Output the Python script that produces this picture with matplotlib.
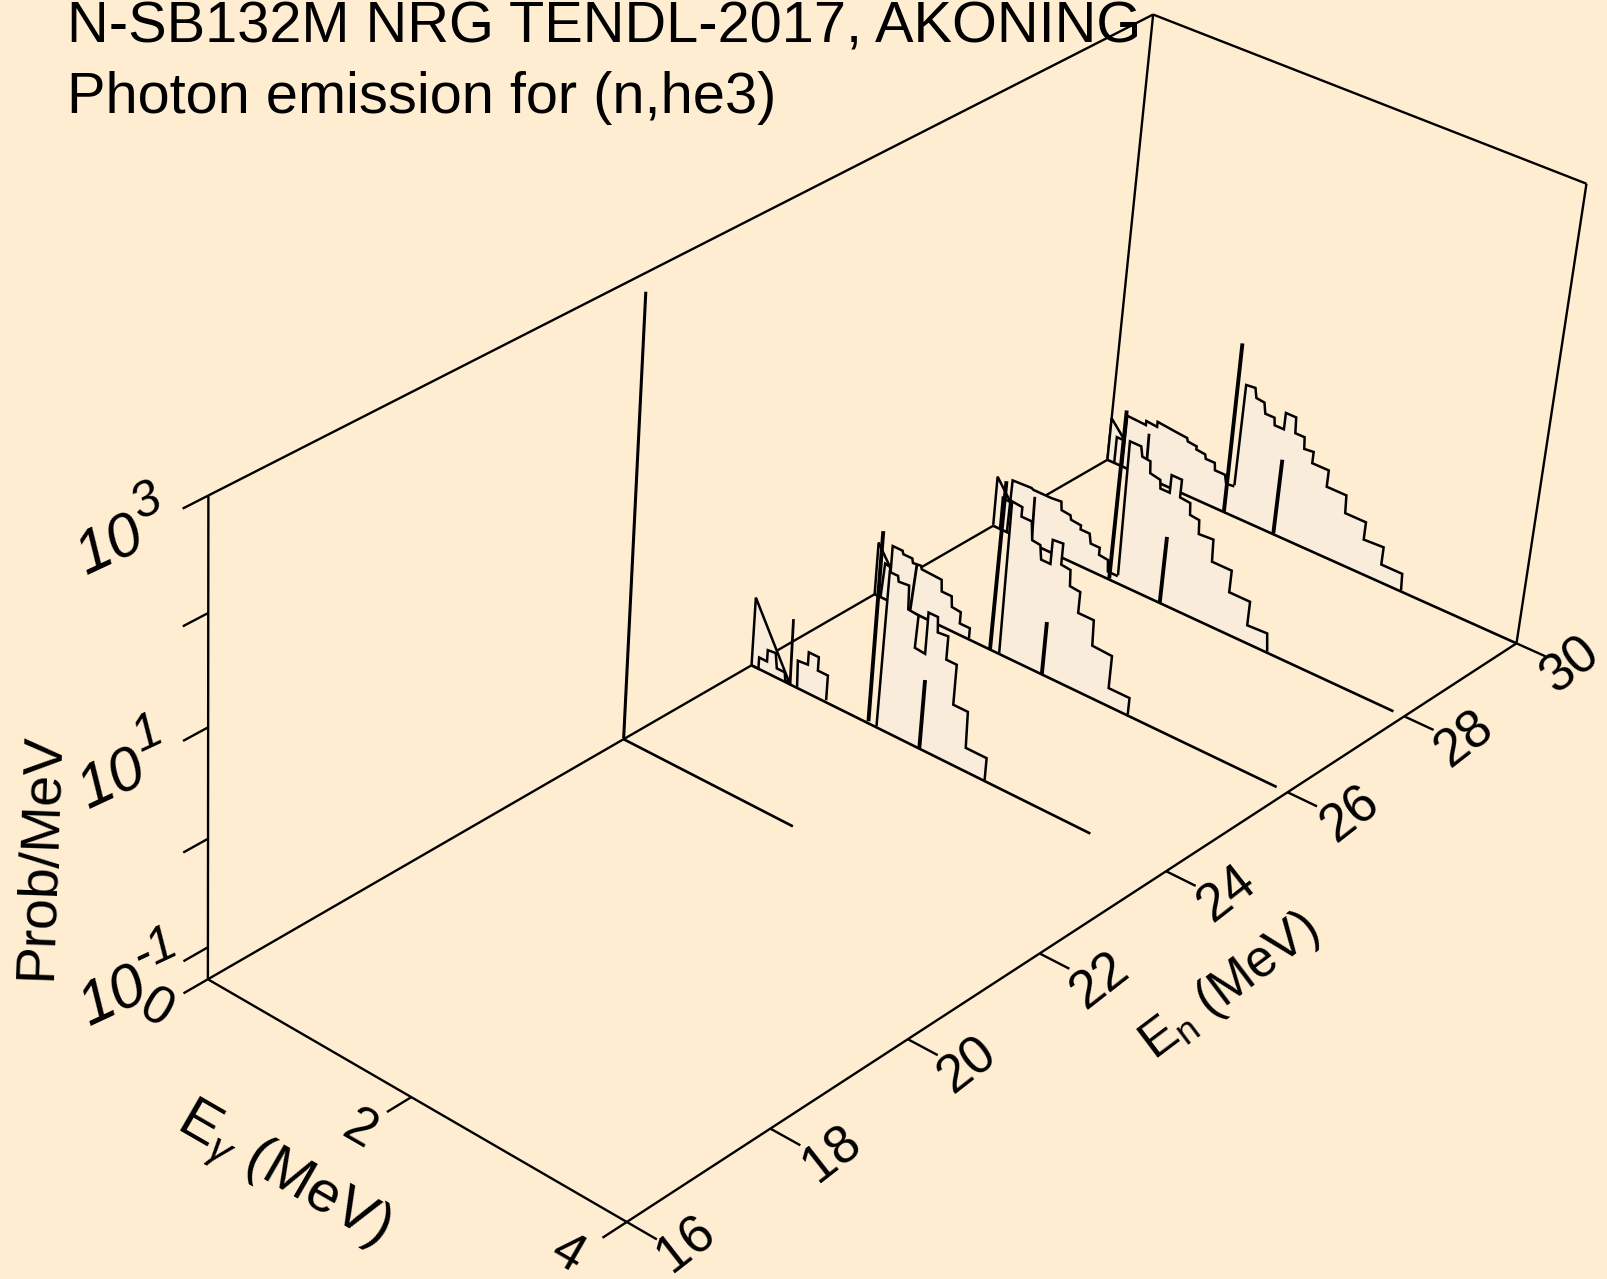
import numpy as np
import matplotlib
matplotlib.use('Agg')
import matplotlib.pyplot as plt
from matplotlib.patches import Polygon

# ---- data: photon energy (MeV) and log10(Prob/MeV), one group per incident energy ----
incident_energies = [30, 28, 26, 24]
eg_ticks = [0, 2, 4]
en_ticks = [16, 18, 20, 22, 24, 26, 28, 30]
logz_ticks = [-1, 0, 1, 2, 3]

eg30_end = 4.00
eg30_tri = [0.00, 0.00, 0.40]
lp30_tri = [-1.30, -0.88, -1.30]
eg30_st = [0.07, 0.07, 0.15, 0.17, 0.23, 0.25]
lp30_st = [-1.30, -1.04, -1.04, -1.16, -1.16, -1.29]
eg30_s0 = [0.39, 0.38]
lp30_s0 = [-1.30, -0.87]
eg30_a = [0.15, 0.15, 0.34, 0.34, 0.45, 0.45, 0.64, 0.75, 0.76, 0.85, 0.85, 0.94, 0.95, 1.04, 1.05, 1.15, 1.17, 1.26]
lp30_a = [-1.30, -0.79, -0.80, -0.76, -0.77, -0.72, -0.74, -0.75, -0.78, -0.79, -0.82, -0.83, -0.87, -0.87, -0.94, -0.94, -1.02, -1.01]
eg30_b = [1.25, 1.25, 1.34, 1.36, 1.44, 1.46, 1.55, 1.56, 1.65, 1.65, 1.75, 1.76, 1.85, 1.86, 1.95, 1.95, 2.11, 2.11, 2.30, 2.31, 2.51, 2.51, 2.70, 2.70, 2.90, 2.91]
lp30_b = [-1.00, -0.01, -0.00, -0.09, -0.10, -0.20, -0.20, -0.27, -0.27, -0.11, -0.11, -0.26, -0.26, -0.37, -0.36, -0.47, -0.47, -0.63, -0.63, -0.80, -0.80, -0.97, -0.96, -1.13, -1.13, -1.29]
eg30_s1 = [1.18, 1.17]
lp30_s1 = [-1.30, 0.36]
eg30_s2 = [1.67, 1.67]
lp30_s2 = [-1.29, -0.56]

eg28_end = 3.90
eg28_tri = [0.00, 0.00, 0.39]
lp28_tri = [-1.29, -0.81, -1.30]
eg28_st = [0.07, 0.07, 0.16, 0.18, 0.25, 0.28]
lp28_st = [-1.30, -0.99, -1.00, -1.10, -1.10, -1.27]
eg28_s0 = [0.39, 0.38]
lp28_s0 = [-1.30, -0.84]
eg28_a = [0.14, 0.15, 0.34, 0.36, 0.54, 0.64, 0.65, 0.74, 0.75, 0.85, 0.85, 0.94, 0.96, 1.05, 1.05, 1.14, 1.15, 1.25]
lp28_a = [-1.29, -0.78, -0.77, -0.78, -0.78, -0.77, -0.85, -0.86, -0.90, -0.91, -0.95, -0.95, -1.04, -1.04, -1.11, -1.12, -1.23, -1.23]
eg28_b = [1.25, 1.23, 1.34, 1.36, 1.44, 1.45, 1.55, 1.56, 1.65, 1.65, 1.75, 1.75, 1.85, 1.86, 1.95, 1.96, 2.10, 2.11, 2.30, 2.30, 2.50, 2.50, 2.69, 2.71]
lp28_b = [-1.22, 0.08, 0.08, -0.01, -0.02, -0.13, -0.15, -0.23, -0.23, -0.06, -0.06, -0.23, -0.24, -0.35, -0.36, -0.49, -0.48, -0.69, -0.69, -0.90, -0.90, -1.13, -1.12, -1.29]
eg28_s1 = [1.17, 1.17]
lp28_s1 = [-1.29, 0.35]
eg28_s2 = [1.67, 1.67]
lp28_s2 = [-1.30, -0.65]

eg26_end = 3.90
eg26_tri = [0.00, 0.00, 0.36]
lp26_tri = [-1.30, -0.79, -1.29]
eg26_st = [0.06, 0.08, 0.13, 0.15, 0.23, 0.26]
lp26_st = [-1.30, -0.96, -0.97, -1.09, -1.10, -1.30]
eg26_s0 = [0.36, 0.39]
lp26_s0 = [-1.29, -0.82]
eg26_a = [0.14, 0.14, 0.24, 0.25, 0.34, 0.35, 0.43, 0.44, 0.64, 0.65, 0.75, 0.76, 0.85, 0.85, 0.95, 0.95]
lp26_a = [-1.30, -0.76, -0.76, -0.79, -0.79, -0.83, -0.82, -0.85, -0.86, -0.97, -0.97, -1.07, -1.08, -1.19, -1.19, -1.29]
eg26_b = [1.25, 1.24, 1.34, 1.34, 1.44, 1.46, 1.54, 1.56, 1.65, 1.65, 1.75, 1.75, 1.84, 1.85, 1.95, 1.95, 2.10, 2.11, 2.30, 2.30, 2.50, 2.50]
lp26_b = [-1.29, 0.17, 0.16, 0.07, 0.07, -0.10, -0.11, -0.24, -0.24, -0.01, -0.00, -0.20, -0.21, -0.36, -0.37, -0.57, -0.57, -0.81, -0.82, -1.13, -1.13, -1.29]
eg26_s1 = [1.16, 1.17]
lp26_s1 = [-1.30, 0.33]
eg26_s2 = [1.67, 1.67]
lp26_s2 = [-1.30, -0.79]

eg24_end = 3.30
eg24_tri = [0.00, 0.00, 0.39]
lp24_tri = [-1.30, -0.64, -1.30]
eg24_st = [0.00, 0.07, 0.07, 0.15, 0.15, 0.23, 0.25, 0.33, 0.34, 0.39]
lp24_st = [-1.30, -1.30, -1.19, -1.19, -1.08, -1.07, -1.21, -1.21, -1.28, -1.30]
eg24_s0 = [0.39, 0.38]
lp24_s0 = [-1.30, -0.67]
eg24_a = [0.46, 0.45, 0.55, 0.55, 0.65, 0.65, 0.75, 0.75]
lp24_a = [-1.30, -1.04, -1.03, -0.91, -0.91, -1.04, -1.04, -1.28]
eg24_b = [1.25, 1.26, 1.34, 1.35, 1.45, 1.46, 1.56, 1.55, 1.65, 1.65, 1.74, 1.75, 1.85, 1.85, 1.95, 1.95, 2.09, 2.10, 2.30, 2.30]
lp24_b = [-1.29, 0.19, 0.19, 0.14, 0.15, -0.07, -0.08, -0.39, -0.40, -0.01, -0.01, -0.15, -0.14, -0.36, -0.36, -0.74, -0.74, -1.08, -1.08, -1.29]
eg24_s1 = [1.17, 1.17]
lp24_s1 = [-1.28, 0.53]
eg24_s2 = [1.67, 1.67]
lp24_s2 = [-1.30, -0.64]

eg22_end = 1.68
eg22_s1 = [0.00, 0.00]
lp22_s1 = [-1.29, 2.83]

BG = '#FFEDD2'
FILL = '#F9ECDB'
plt.rcParams['font.family'] = ['Liberation Sans', 'DejaVu Sans']
plt.rcParams['mathtext.fontset'] = 'custom'
plt.rcParams['mathtext.rm'] = 'Liberation Sans'
plt.rcParams['mathtext.it'] = 'Liberation Sans:italic'

ZLOW = -1.3
ZTOP = 3.0
# camera of the 3-D box: fitted from where the box corners and ticks sit
cal = [(0, 16, ZLOW, 208.3, 980), (0, 16, 3, 208.3, 495), (4, 16, ZLOW, 626, 1222), (4, 30, ZLOW, 1516.5, 643),
       (0, 30, ZLOW, 1106.7, 460), (0, 30, 3, 1153, 14), (4, 30, 3, 1586.5, 184.5), (4, 18, ZLOW, 770.9, 1128),
       (4, 20, ZLOW, 907.8, 1039.5), (4, 22, ZLOW, 1039.6, 953.9), (4, 24, ZLOW, 1166.8, 871.6),
       (4, 26, ZLOW, 1287.3, 791.6), (4, 28, ZLOW, 1404.4, 716.2), (0, 22, ZLOW, 623, 738), (0, 24, ZLOW, 751, 665),
       (0, 26, ZLOW, 875, 595), (0, 28, ZLOW, 994, 526), (2, 16, ZLOW, 410.6, 1096.7), (0, 16, 2, 208.3, 613),
       (0, 16, 1, 208.3, 727), (0, 16, 0, 208.3, 840), (0, 16, -1, 208.3, 947)]
A = []
b = []
for e, n, z, x, y in cal:
    A.append([e, n, z, 1, 0, 0, 0, 0, -x * e, -x * n, -x * z])
    b.append(x)
    A.append([0, 0, 0, 0, e, n, z, 1, -y * e, -y * n, -y * z])
    b.append(y)
s = np.linalg.lstsq(np.array(A, float), np.array(b, float), rcond=None)[0]
P = np.array([s[:4], s[4:8], list(s[8:11]) + [1.0]])


def project(e, n, z):
    e = np.asarray(e, float)
    z = np.asarray(z, float)
    n = np.full_like(e, n, dtype=float) if np.ndim(n) == 0 else np.asarray(n, float)
    h = P @ np.stack([e, n, z, np.ones_like(e)])
    return h[0] / h[2], h[1] / h[2]


fig = plt.figure(figsize=(16.07, 12.79), dpi=100, facecolor=BG)
ax = fig.add_axes([0, 0, 1, 1])
ax.set_xlim(0, 1607)
ax.set_ylim(1279, 0)
ax.axis('off')
LW = 1.8
order = [2]


def L(e, n, z, lw=LW):
    order[0] += 1
    x, y = project(e, n, z)
    ax.plot(x, y, color='k', lw=lw, solid_capstyle='butt', solid_joinstyle='miter', zorder=order[0], clip_on=False)


def PG(e, n, z, lw=LW):
    order[0] += 1
    x, y = project(e, n, z)
    x0, y0 = project([e[-1], e[0]], n, [ZLOW, ZLOW])
    ax.add_patch(Polygon(np.c_[np.r_[x, x0], np.r_[y, y0]], closed=True, fc=FILL, ec='none', zorder=order[0]))
    L(e, n, z, lw)


def F(e, n, z):
    x, y = project(e, n, z)
    ax.plot(x, y, color='k', lw=1.7, solid_capstyle='butt', zorder=2, clip_on=False)


# box
F([0, 0], [16, 16], [ZLOW, 3])
F([0, 0], [30, 30], [ZLOW, 3])
F([4, 4], [30, 30], [ZLOW, 3])
F([0, 4], [30, 30], [3, 3])
F([0, 0], [16, 30], [3, 3])
F([0, 0], [16, 30], [ZLOW, ZLOW])
F([0, 4], [16, 16], [ZLOW, ZLOW])
F([4, 4], [16, 30], [ZLOW, ZLOW])
for z in logz_ticks + [ZLOW]:
    F([0, 0], [16, 15.67], [z, z])
for e in eg_ticks[1:]:
    F([e, e], [16, 15.67], [ZLOW, ZLOW])
for n in en_ticks:
    F([4, 4.27], [n, n], [ZLOW, ZLOW])

# spectra, back to front
g = globals()
for n in incident_energies:
    for part in ['tri', 'st', 'a', 'b']:
        PG(g[f'eg{n}_{part}'], n, g[f'lp{n}_{part}'])
    L([0, g[f'eg{n}_end']], n, [ZLOW, ZLOW], 1.9)
    for part, lw in [('s0', 2.0), ('s1', 2.8), ('s2', 2.8)]:
        L(g[f'eg{n}_{part}'], n, g[f'lp{n}_{part}'], lw)
L([0, eg22_end], 22, [ZLOW, ZLOW], 1.9)
L(eg22_s1, 22, lp22_s1, 2.2)


def T(x, y, t, rot, fs, **k):
    ax.text(x, y, t, rotation=rot, fontsize=fs, ha='center', va='center', rotation_mode='anchor', zorder=500, **k)


ax.text(67, 43, 'N-SB132M NRG TENDL-2017, AKONING', fontsize=41.6, ha='left', va='baseline', zorder=500)
ax.text(67, 113, 'Photon emission for (n,he3)', fontsize=41.6, ha='left', va='baseline', zorder=500)
for n, (x, y) in zip(en_ticks, [(686, 1244), (832, 1155), (967, 1066), (1100, 981), (1227, 894), (1351, 815), (1464, 740), (1570, 666)]):
    T(x, y, str(n), 38, 38)
for e, (x, y) in zip(eg_ticks, [(156, 1010), (359, 1130), (567, 1254)]):
    T(x, y, str(e), -30, 38)
T(1230, 987, r'E$_{\mathregular{n}}$ (MeV)', 37, 37)
T(282, 1176, r'E$_{\gamma}$ (MeV)', -30, 42)
T(41, 856, 'Prob/MeV', 88, 40)
for lab, exp, (x, y), (xe, ye) in [('10', '3', (110, 547), (147, 502)), ('10', '1', (112, 781), (148, 734)), ('10', '-1', (113, 998), (155, 950))]:
    T(x, y, lab, 25, 44, style='italic')
    T(xe, ye, exp, 25, 36, style='italic')
fig.savefig('out.png', dpi=100, facecolor=BG)
